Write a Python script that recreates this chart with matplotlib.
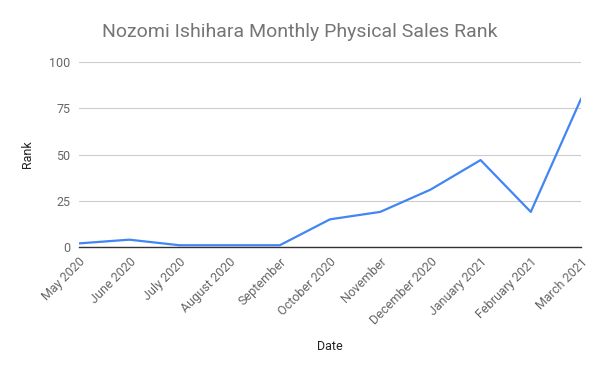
import matplotlib.pyplot as plt

months = ['May 2020', 'June 2020', 'July 2020', 'August 2020', 'September',
          'October 2020', 'November', 'December 2020', 'January 2021',
          'February 2021', 'March 2021']
rank = [2, 4, 1, 1, 1, 15, 19, 31, 47, 19, 80]

plt.rcParams['font.family'] = ['Roboto', 'DejaVu Sans']

fig = plt.figure(figsize=(6, 3.71), dpi=100)
ax = fig.add_axes([0.1317, 0.334, 0.8366, 0.499])

x = list(range(len(months)))
ax.plot(x, rank, color='#4285F4', linewidth=1.6)

ax.set_xlim(0, len(months) - 1)
ax.set_ylim(0, 100)
ax.set_yticks([0, 25, 50, 75, 100])
ax.set_xticks(x)
ax.set_xticklabels(months, rotation=45, ha='right', rotation_mode='anchor')
ax.tick_params(axis='both', length=0, labelsize=9, labelcolor='#666666')
ax.tick_params(axis='x', pad=6)
ax.tick_params(axis='y', pad=6)
ax.grid(axis='y', color='#cccccc', linewidth=0.8)
ax.set_axisbelow(True)
for s in ['top', 'right', 'left']:
    ax.spines[s].set_visible(False)
ax.spines['bottom'].set_color('#333333')
ax.spines['bottom'].set_linewidth(1.0)
ax.spines['bottom'].set_zorder(3)

ax.set_xlabel('Date', fontsize=9, color='#222222')
ax.xaxis.set_label_coords(0.5, -0.50)
ax.set_ylabel('Rank', fontsize=9, color='#222222')
ax.yaxis.set_label_coords(-0.09, 0.5)

fig.text(0.5, 0.915, 'Nozomi Ishihara Monthly Physical Sales Rank',
         ha='center', va='center', fontsize=14, color='#757575')

fig.savefig('out.png', dpi=100, facecolor='white')
